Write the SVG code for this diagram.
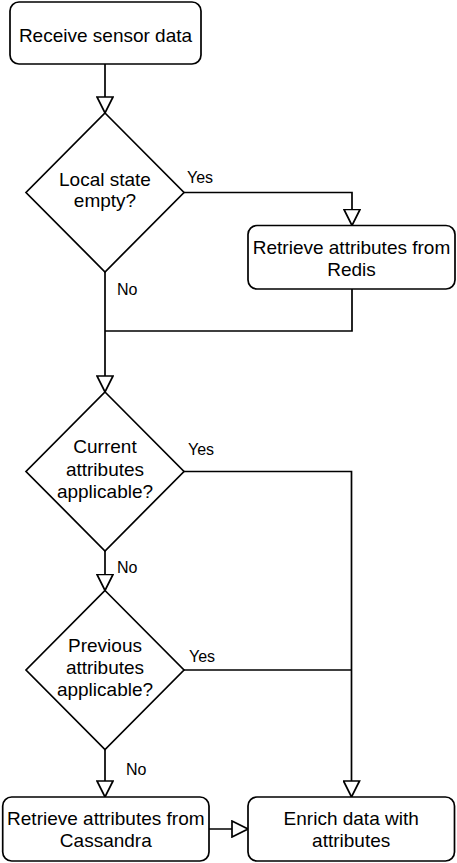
<svg xmlns="http://www.w3.org/2000/svg" width="457" height="863" viewBox="0 0 457 863">
<style>
.n{fill:#fff;stroke:#000;stroke-width:1.7}
.c{fill:none;stroke:#000;stroke-width:1.7}
.t{font-family:"Liberation Sans",Arial,sans-serif;font-size:19px;fill:#000;text-anchor:middle}
.l{font-family:"Liberation Sans",Arial,sans-serif;font-size:16px;fill:#000}
</style>
<defs>
<marker id="ah" markerUnits="userSpaceOnUse" viewBox="-1 -1 18 18" markerWidth="18" markerHeight="18" refX="16" refY="8" orient="auto">
<path d="M0,0 L16,8 L0,16 Z" fill="#fff" stroke="#000" stroke-width="1.7" stroke-linejoin="miter"/>
</marker>
</defs>
<rect width="457" height="863" fill="#fff"/>
<g id="connectors">
<path class="c" d="M105,64 V113" marker-end="url(#ah)"/>
<path class="c" d="M184,192.5 H352 V225.5" marker-end="url(#ah)"/>
<path class="c" d="M352,289 V331 H105"/>
<path class="c" d="M105,272 V392" marker-end="url(#ah)"/>
<path class="c" d="M184,471.5 H351.5 V797" marker-end="url(#ah)"/>
<path class="c" d="M105,551 V590.5" marker-end="url(#ah)"/>
<path class="c" d="M184,670 H351.5"/>
<path class="c" d="M105,749.5 V797" marker-end="url(#ah)"/>
<path class="c" d="M209,829 H248" marker-end="url(#ah)"/>
<text class="l" x="187" y="183">Yes</text>
<text class="l" x="117" y="295">No</text>
<text class="l" x="188" y="455">Yes</text>
<text class="l" x="117" y="573">No</text>
<text class="l" x="189" y="662">Yes</text>
<text class="l" x="126" y="775">No</text>
</g>
<g id="receive">
<rect class="n" x="10" y="2" width="191" height="62" rx="9"/>
<text class="t" x="105.5" y="41.5">Receive sensor data</text>
</g>
<g id="local-state">
<polygon class="n" points="105,113 184,192.5 105,272 26,192.5"/>
<text class="t" x="105" y="186">Local state</text>
<text class="t" x="105" y="207">empty?</text>
</g>
<g id="redis">
<rect class="n" x="248" y="225.5" width="207" height="63.5" rx="9"/>
<text class="t" x="351.5" y="254">Retrieve attributes from</text>
<text class="t" x="351.5" y="275.5">Redis</text>
</g>
<g id="current">
<polygon class="n" points="105,392 184,471.5 105,551 26,471.5"/>
<text class="t" x="105" y="453">Current</text>
<text class="t" x="105" y="475.5">attributes</text>
<text class="t" x="105" y="498">applicable?</text>
</g>
<g id="previous">
<polygon class="n" points="105,590.5 184,670 105,749.5 26,670"/>
<text class="t" x="105" y="652">Previous</text>
<text class="t" x="105" y="674">attributes</text>
<text class="t" x="105" y="696">applicable?</text>
</g>
<g id="cassandra">
<rect class="n" x="2.7" y="797" width="206.3" height="64" rx="9"/>
<text class="t" x="105.8" y="825">Retrieve attributes from</text>
<text class="t" x="105.8" y="847">Cassandra</text>
</g>
<g id="enrich">
<rect class="n" x="248" y="797" width="206.5" height="64" rx="9"/>
<text class="t" x="351.2" y="825">Enrich data with</text>
<text class="t" x="351.2" y="847">attributes</text>
</g>
</svg>
